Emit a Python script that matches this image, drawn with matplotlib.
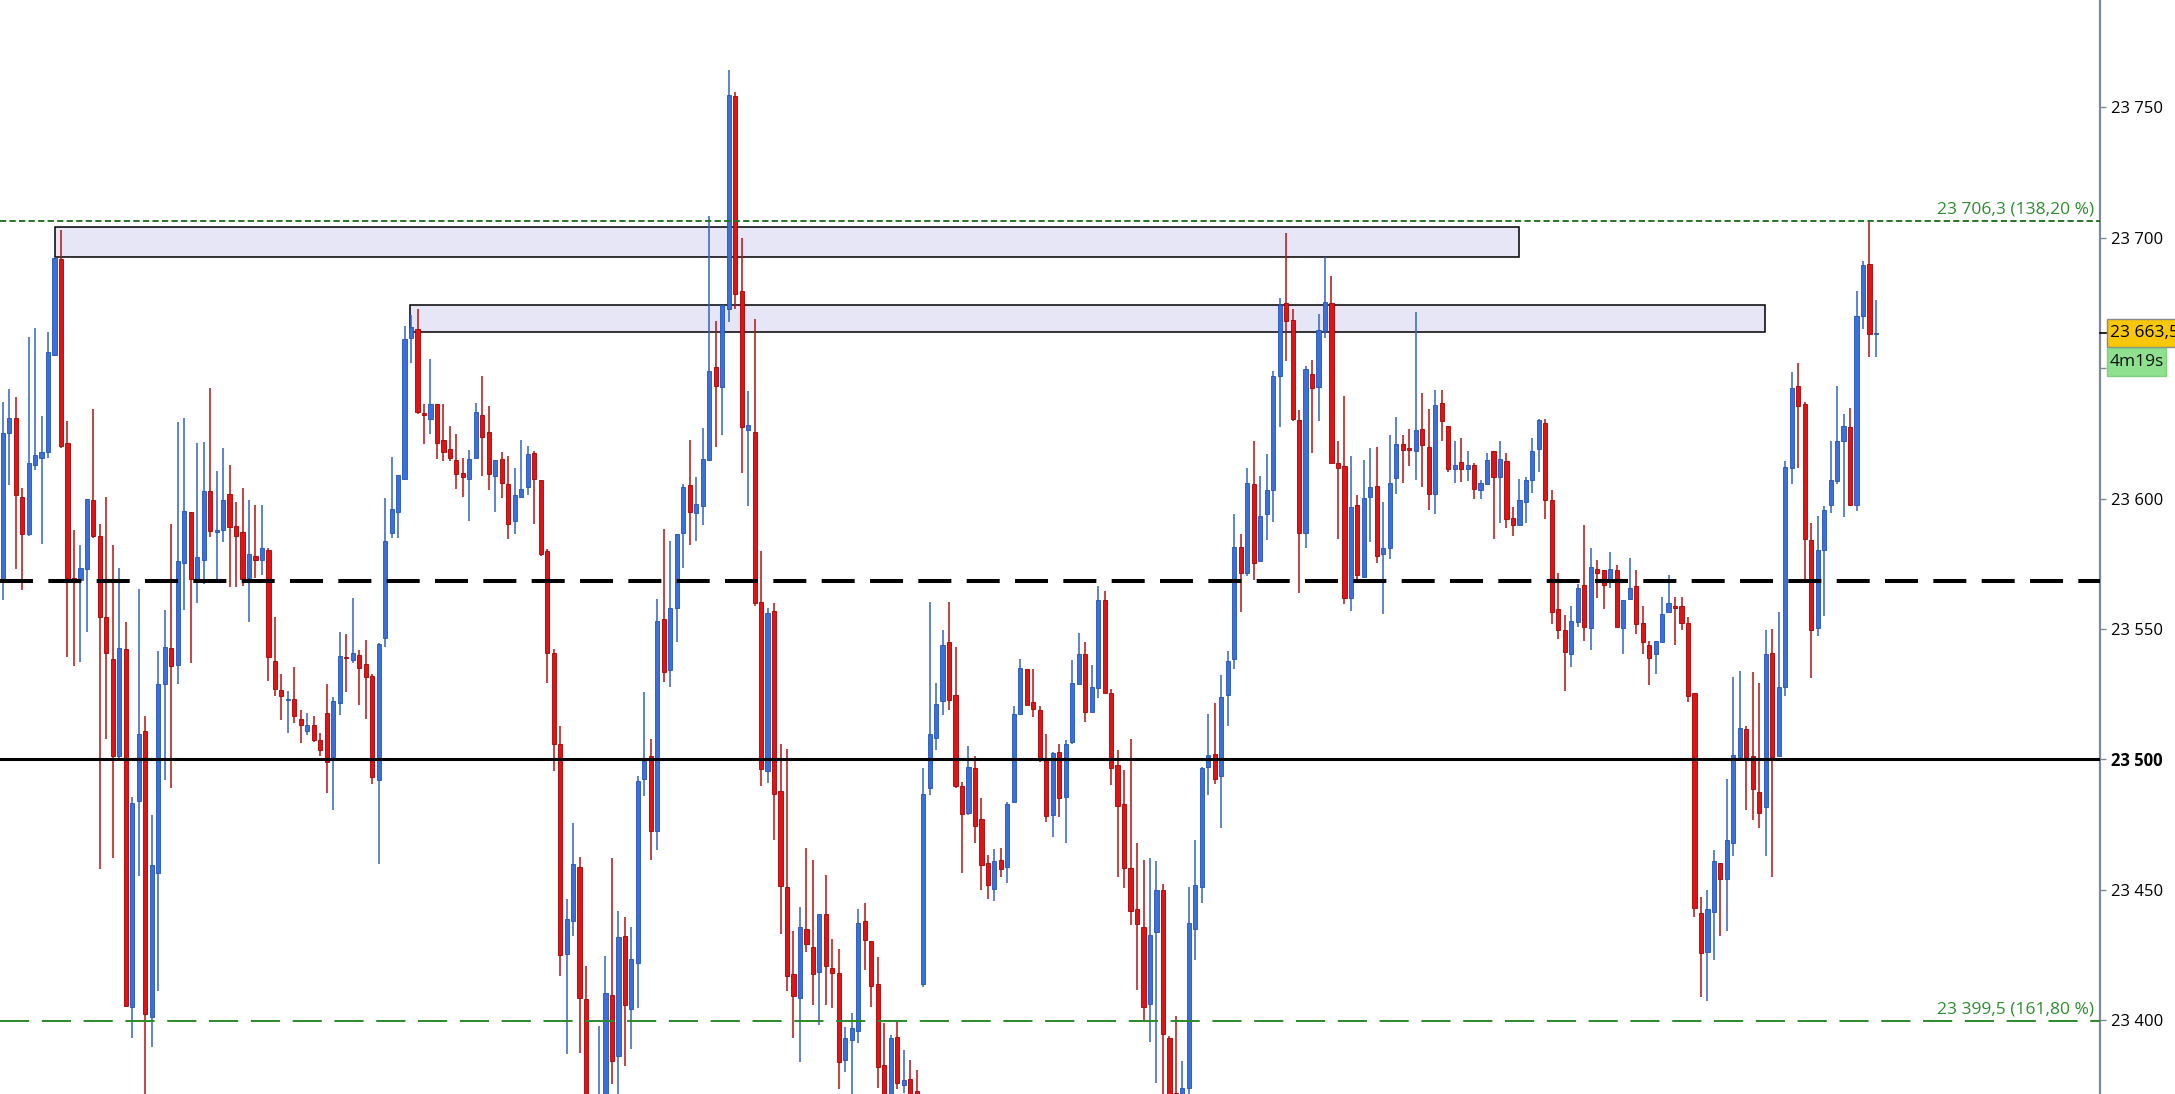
import matplotlib
matplotlib.use("Agg")
import matplotlib.pyplot as plt
from matplotlib.patches import Rectangle
from matplotlib.lines import Line2D
import numpy as np

plt.rcParams['font.family'] = ['Open Sans', 'DejaVu Sans']

# ---------------- data ----------------
opens = [
    23568, 23625, 23631, 23600.6, 23586.4, 23613, 23615.7, 23617.8, 23654.9, 23691.7,
    23621.4, 23569.5, 23568.9, 23572.9, 23599.4, 23585.6, 23554.4, 23538.3, 23501.3, 23542.2,
    23404.9, 23483.9, 23510.8, 23401.3, 23456.4, 23528.8, 23542.6, 23536.2, 23575.4, 23594.9,
    23569.1, 23576.5, 23603, 23587, 23587.9, 23601.8, 23589.5, 23587.3, 23569.5, 23577.9,
    23576.6, 23580.3, 23537.6, 23526.7, 23522.6, 23523.2, 23515.6, 23510.7, 23513.3, 23507.5,
    23517.9, 23500.9, 23521.7, 23539, 23538, 23540, 23536.5, 23531.9, 23491.9, 23546.4,
    23586.9, 23595, 23607.6, 23661.4, 23665.2, 23632.8, 23630.4, 23636.1, 23622.3, 23618.9,
    23614.6, 23609.7, 23607.4, 23615.6, 23632, 23625.6, 23608.7, 23615.3, 23605.4, 23591.3,
    23600.5, 23604.3, 23617.6, 23607.2, 23579.8, 23540.7, 23505.9, 23425.3, 23438.1, 23458.8,
    23408.2, 23364, 23360, 23366, 23409.5, 23386.2, 23432.2, 23404.1, 23422, 23492.3,
    23501.3, 23472.4, 23553.6, 23534.3, 23558, 23586.9, 23605, 23594.6, 23597.2, 23614.8,
    23650.6, 23642.6, 23672.8, 23754.5, 23679.7, 23626.4, 23625.6, 23560.3, 23495.6, 23556.7,
    23487.9, 23451, 23417.5, 23408.5, 23434.8, 23427.8, 23418.3, 23440.7, 23420.1, 23418,
    23384.5, 23392.5, 23395.6, 23438, 23430.2, 23413.8, 23382.8, 23366, 23393.3, 23374.9,
    23377.3, 23372.7, 23413.8, 23488.9, 23508.2, 23522.2, 23544.8, 23524.5, 23489.6, 23479.5,
    23496.5, 23476.9, 23460.2, 23450.4, 23461.2, 23458.5, 23483.7, 23517.4, 23534.6, 23521.8,
    23518.9, 23500, 23478.5, 23502.6, 23485.4, 23506.8, 23528.8, 23540.5, 23518.1, 23527.5,
    23561.2, 23525.4, 23497.7, 23482.7, 23458.4, 23442.4, 23435.8, 23406, 23433.7, 23449.7,
    23393.2, 23372, 23365, 23374, 23434.8, 23451, 23497.2, 23502.1, 23493.4, 23524.5,
    23538.4, 23581.4, 23571.4, 23605.5, 23576.1, 23594.2, 23603.4, 23646.9, 23674.8, 23668.4,
    23630.3, 23586.9, 23647.6, 23642.7, 23664.3, 23674.8, 23613.6, 23612.6, 23561.8, 23597.5,
    23569.8, 23600.7, 23604.9, 23578.8, 23581.1, 23607.8, 23620.9, 23619.4, 23618.3, 23626.7,
    23619.9, 23601.9, 23636.8, 23628, 23611.5, 23614, 23611.5, 23612.8, 23603.2, 23605.5,
    23618.3, 23608.2, 23614.3, 23592.5, 23590, 23598.7, 23607.2, 23618.8, 23629.1, 23599.3,
    23557.5, 23549.4, 23540.4, 23552.7, 23567, 23550.4, 23572.8, 23572.4, 23568.2, 23572.5,
    23550.4, 23561.3, 23566.6, 23552.2, 23544, 23540.4, 23544.8, 23556.4, 23558.7, 23558.7,
    23552.2, 23525.4, 23441.2, 23426.1, 23441.5, 23460.1, 23454.2, 23467.9, 23500.8, 23511.5,
    23501.2, 23487.5, 23481.6, 23540.7, 23501.2, 23527.6, 23611.7, 23643, 23636.2, 23584,
    23550.5, 23580.4, 23597.7, 23606.9, 23621.9, 23627.4, 23597.7, 23670.1, 23690, 23663.2,
]
highs = [
    23637, 23642, 23639, 23604, 23662, 23665.3, 23631.8, 23664, 23692.6, 23703,
    23629.9, 23587.9, 23582.2, 23599.8, 23634.3, 23590.3, 23600.4, 23582.2, 23573.3, 23552.5,
    23485.4, 23565.3, 23516.7, 23478.6, 23541.5, 23557.4, 23590.3, 23629.4, 23630.9, 23594.9,
    23621.4, 23621.8, 23642.4, 23610.5, 23619.4, 23612.8, 23598.5, 23604.1, 23599.5, 23597.4,
    23597.4, 23581.2, 23554.5, 23532.7, 23526, 23535.4, 23518.9, 23517.9, 23516.6, 23510.2,
    23529, 23523.7, 23548.7, 23548.1, 23561.8, 23542, 23545.8, 23532.7, 23544.6, 23600.3,
    23615.9, 23609, 23666.3, 23670.2, 23672.8, 23636.2, 23653.5, 23636.1, 23636.3, 23627.9,
    23624.8, 23615.6, 23618.7, 23636.6, 23647, 23635.3, 23614.8, 23617.9, 23616.4, 23611.8,
    23622.3, 23620.2, 23618.2, 23607.2, 23580.6, 23542.2, 23512.8, 23446.3, 23475.7, 23462.4,
    23420.7, 23369, 23397.7, 23424.6, 23462.1, 23441.7, 23439.4, 23435.6, 23493.6, 23525.8,
    23507.7, 23561.4, 23588.2, 23583.8, 23586.4, 23605.7, 23622.5, 23608.3, 23627.1, 23708.4,
    23668.1, 23674.1, 23764.3, 23755.8, 23699.8, 23641.1, 23668.9, 23579.9, 23558, 23559.8,
    23505.7, 23503.9, 23434.3, 23443.2, 23466, 23461.3, 23440.7, 23455.6, 23431.2, 23427.3,
    23397.4, 23402.8, 23442.6, 23444.9, 23430.2, 23424.3, 23398.8, 23394.3, 23399.9, 23388.4,
    23384.5, 23380.8, 23496.7, 23560.4, 23529.4, 23549.6, 23560.4, 23543.1, 23491.3, 23505,
    23501.4, 23485, 23463.4, 23465.4, 23465.8, 23483.7, 23520.6, 23538.3, 23534.6, 23534.6,
    23520.6, 23509.8, 23502.6, 23505.9, 23507.2, 23538.2, 23548.4, 23544.8, 23536, 23566.5,
    23564.4, 23527.1, 23503.6, 23495.7, 23507.9, 23467.8, 23461.4, 23462, 23461, 23452,
    23394, 23401.7, 23384.2, 23451, 23469.1, 23497.2, 23517.5, 23521.7, 23532.4, 23541.6,
    23594.2, 23586.4, 23611.7, 23622, 23608.7, 23617.1, 23649, 23676.8, 23701.8, 23672.7,
    23633.8, 23650.7, 23653, 23670.7, 23692.6, 23685.4, 23622.2, 23639.5, 23616.4, 23601.4,
    23614.9, 23619.5, 23619.9, 23598.7, 23624.5, 23631.4, 23624.4, 23626.7, 23671.4, 23640.6,
    23634.4, 23641.8, 23641.8, 23628, 23622.2, 23623.2, 23618.3, 23613.8, 23607, 23617.4,
    23618.3, 23622.1, 23617.3, 23596.7, 23607.5, 23608.2, 23623.1, 23630.6, 23630.6, 23603.4,
    23571.3, 23555.2, 23558.7, 23567.2, 23589.7, 23581, 23576.6, 23572.4, 23579.6, 23574.6,
    23560.9, 23577.3, 23572.5, 23558.7, 23545.5, 23545.5, 23562.1, 23570.6, 23562.4, 23562.4,
    23554.5, 23525.4, 23447, 23449.7, 23465, 23460.1, 23492.4, 23531.5, 23533.9, 23512.9,
    23533.5, 23529.2, 23549.5, 23550.1, 23556.6, 23614.3, 23648.5, 23651.9, 23637.2, 23590.6,
    23593.2, 23597.1, 23621.9, 23643.1, 23632.3, 23634.6, 23679.6, 23691, 23706.3, 23676.3,
]
lows = [
    23561, 23605, 23573, 23565, 23585.8, 23611, 23582.4, 23615.5, 23654.5, 23619.3,
    23539.4, 23535.8, 23537.3, 23548.9, 23585, 23457.8, 23507.8, 23462.1, 23499.6, 23404.9,
    23393.2, 23455.3, 23365, 23389.6, 23411.2, 23492.2, 23489, 23528.8, 23557.4, 23536.9,
    23560, 23567.4, 23585.4, 23567.8, 23583.5, 23566, 23566, 23566.3, 23552.5, 23569.6,
    23570.5, 23530.1, 23524.3, 23515.1, 23509.9, 23514, 23506.1, 23509.2, 23506.7, 23501.4,
    23487, 23480.5, 23517.1, 23525.8, 23536.9, 23520.9, 23515.3, 23490.4, 23459.8, 23543,
    23584.7, 23584.7, 23607.6, 23652.1, 23632.4, 23620.9, 23624.6, 23615.1, 23614.3, 23614.3,
    23603.6, 23600.5, 23591.3, 23615.6, 23608.7, 23603.1, 23594.9, 23600.3, 23584.4, 23586.4,
    23600.5, 23601.5, 23590.3, 23578, 23529.4, 23495.4, 23416.9, 23387, 23432.2, 23387.5,
    23360, 23350, 23352, 23360, 23375.4, 23370, 23382.4, 23388.7, 23404.6, 23485.8,
    23461.3, 23465.2, 23529.7, 23527.8, 23545.1, 23573.5, 23582, 23583.8, 23589.7, 23614.2,
    23619.9, 23624.3, 23667.6, 23672.8, 23609.6, 23597.2, 23558.8, 23489.7, 23491, 23469.1,
    23433, 23411, 23393, 23384, 23426, 23405.9, 23398.1, 23405.9, 23404.6, 23373.6,
    23380.1, 23365, 23391, 23419.3, 23405, 23374, 23360, 23360, 23373.4, 23372,
    23366, 23362, 23412.5, 23486.3, 23503.7, 23517, 23518.7, 23488.9, 23456.5, 23478.5,
    23467.8, 23449.7, 23446.2, 23445.8, 23455, 23452.6, 23483.7, 23517.4, 23520.9, 23516.3,
    23499.1, 23476.1, 23470, 23477.8, 23467.8, 23506, 23528.8, 23514.3, 23518.1, 23523.5,
    23525.4, 23490.2, 23455, 23450.7, 23436.5, 23411.5, 23399.1, 23391.7, 23375.7, 23365,
    23360, 23360, 23360, 23370, 23423, 23445, 23486.1, 23490.4, 23473.8, 23512.8,
    23534.5, 23556.3, 23570.1, 23568.7, 23576.1, 23584, 23591, 23627.3, 23652.8, 23629.9,
    23563.8, 23581.1, 23617.3, 23629.9, 23661.4, 23613.5, 23584.6, 23559.5, 23557, 23568.5,
    23569.5, 23583.4, 23575.3, 23555.7, 23576.9, 23601.9, 23605.8, 23612.3, 23607, 23604.5,
    23595.5, 23594.2, 23621.9, 23610, 23605.8, 23606.5, 23606.8, 23600, 23600, 23605.5,
    23584.6, 23590.7, 23588.5, 23585.5, 23589.7, 23590.7, 23602.2, 23610.1, 23592.2, 23551.9,
    23546.3, 23526.3, 23535.5, 23550.9, 23545.2, 23541.8, 23561.9, 23557.5, 23565.8, 23550.7,
    23540.4, 23560.9, 23548.2, 23540.3, 23528.5, 23532.5, 23544.8, 23556.4, 23543.7, 23549.7,
    23521.8, 23439.3, 23408.7, 23407.2, 23422.9, 23432.3, 23434.2, 23463, 23500.8, 23480.6,
    23476.7, 23473.8, 23463, 23454.8, 23501.2, 23524.3, 23605.5, 23611.7, 23568.1, 23531.1,
    23547.2, 23555, 23594.5, 23605.5, 23592.8, 23597.1, 23595.1, 23665.2, 23654.2, 23654.2,
]
closes = [
    23625, 23631, 23601.5, 23586.4, 23613.6, 23616.7, 23617.8, 23656, 23692.2, 23620.3,
    23569.7, 23568.4, 23573.3, 23599.8, 23585.6, 23554.4, 23540.9, 23501.3, 23542.8, 23405.5,
    23483.3, 23509.7, 23402.1, 23459.5, 23528.8, 23543, 23535.8, 23576.1, 23595.1, 23569.1,
    23577.5, 23603, 23587.7, 23588, 23599.5, 23589.2, 23585.6, 23569, 23578.9, 23576.3,
    23581.2, 23539.2, 23527, 23524.3, 23523.2, 23516.6, 23513.1, 23513.3, 23507.2, 23503.4,
    23499.1, 23522.4, 23539.5, 23538.7, 23540.8, 23535, 23531.6, 23493.1, 23544.3, 23583.8,
    23596, 23609, 23661.1, 23665.6, 23633.1, 23632.1, 23636.1, 23621.2, 23617.9, 23615.6,
    23609.5, 23608.4, 23615.3, 23633, 23623.5, 23609.5, 23614.6, 23606.1, 23590.3, 23601.5,
    23603.6, 23617.1, 23607.4, 23578.8, 23540.7, 23505.9, 23425.1, 23438.6, 23459.8, 23408.4,
    23366, 23358, 23369, 23410.2, 23384.1, 23432, 23405.6, 23423.3, 23491.8, 23499.5,
    23472.4, 23552.9, 23533.5, 23558, 23586.4, 23604.4, 23594.9, 23598, 23615.3, 23649,
    23643.1, 23674.1, 23754.8, 23678.4, 23627.6, 23628.2, 23560.1, 23496.1, 23556.2, 23486.6,
    23451.5, 23416.7, 23409, 23435.5, 23429.1, 23417.5, 23440.7, 23420.6, 23418, 23384,
    23393.2, 23396.9, 23437.3, 23430.8, 23412.9, 23381.9, 23368, 23393, 23375.7, 23376.9,
    23370, 23366, 23486.6, 23509.5, 23521, 23543.7, 23522.8, 23489.9, 23479.1, 23497,
    23474.5, 23459.5, 23451.7, 23460.8, 23457.8, 23483, 23517.2, 23534.9, 23520.9, 23519.3,
    23500, 23478.2, 23502.3, 23485, 23505.9, 23529.2, 23540.5, 23518.1, 23527.7, 23561.2,
    23525.4, 23496.8, 23481.9, 23458.4, 23441.8, 23436.9, 23405.1, 23432.6, 23449.7, 23394.5,
    23369, 23365, 23374, 23437.1, 23451.8, 23496.8, 23501.5, 23492.3, 23523.9, 23537.7,
    23581.4, 23571.4, 23606, 23575.1, 23593.2, 23603.2, 23646.9, 23674.2, 23668.2, 23630.5,
    23586.9, 23649.5, 23642.4, 23664.8, 23675.2, 23613.5, 23611.7, 23561.8, 23596.8, 23570.8,
    23600.2, 23604.5, 23578.1, 23581.1, 23605.9, 23620.9, 23618.6, 23618.6, 23626.3, 23620.5,
    23601.9, 23635.7, 23629.6, 23611.3, 23612.8, 23611.5, 23612.8, 23603.6, 23605.9, 23614.9,
    23608.1, 23615.1, 23592.2, 23589.7, 23599.3, 23607, 23618.4, 23630, 23599.3, 23556.3,
    23549.7, 23541.2, 23553.1, 23565.8, 23550.7, 23573.6, 23571.6, 23567, 23572.8, 23550.7,
    23560.9, 23565.8, 23551.9, 23544.8, 23539, 23545.2, 23555.7, 23559.9, 23557.9, 23552.2,
    23524.3, 23443, 23425.5, 23442.5, 23461, 23454.2, 23468.9, 23501.6, 23511.9, 23500.8,
    23488.5, 23479.3, 23540.3, 23500.8, 23527.6, 23612.1, 23642.5, 23635.6, 23584.3, 23549.7,
    23580.4, 23595.7, 23607.2, 23622.1, 23628, 23597.7, 23670.1, 23689.6, 23663.2, 23663.5,
]

# horizontal levels
fib_levels = [23706.3, 23399.5]
fib_labels = ["23 706,3 (138,20 %)", "23 399,5 (161,80 %)"]
dashed_level = 23568.5
solid_level = 23500.0

# supply zones (candle index start/end, price low/high)
zone_start = [8.1, 62.9]
zone_end = [233.9, 271.9]
zone_low = [23692.6, 23663.8]
zone_high = [23704.2, 23674.2]

# price axis
tick_values = [23400, 23450, 23500, 23550, 23600, 23650, 23700, 23750]
tick_labels = ["23 400", "23 450", "23 500", "23 550", "23 600", "", "23 700", "23 750"]
last_price = 23663.5
last_price_label = "23 663,5"
timer_label = "4m19s"

# ---------------- figure ----------------
W, H = 2175, 1094
fig = plt.figure(figsize=(W / 100, H / 100), dpi=100)
fig.patch.set_facecolor("white")
ax = fig.add_axes([0, 0, 2100 / W, 1])
ax.set_facecolor("white")

n = len(opens)
x = np.arange(n)
o = np.array(opens); c = np.array(closes); hi = np.array(highs); lo = np.array(lows)
up = c >= o

body_col_up, edge_up, wick_up = "#3b6fd9", "#2352b8", "#3262c8"
body_col_dn, edge_dn, wick_dn = "#e01414", "#a80000", "#b81010"

# zones (behind candles)
for xs, xe, yl, yh in zip(zone_start, zone_end, zone_low, zone_high):
    ax.add_patch(Rectangle((xs, yl), xe - xs, yh - yl, facecolor="#e6e6f6",
                           edgecolor="black", linewidth=1.1, zorder=1))

# wicks
ax.vlines(x[up], lo[up], hi[up], colors=wick_up, linewidth=1.1, zorder=2)
ax.vlines(x[~up], lo[~up], hi[~up], colors=wick_dn, linewidth=1.1, zorder=2)

# bodies
bottoms = np.minimum(o, c)
heights = np.maximum(np.abs(c - o), 0.45)
ax.bar(x[up], heights[up], bottom=bottoms[up], width=0.64, color=body_col_up,
       edgecolor=edge_up, linewidth=0.6, zorder=3)
ax.bar(x[~up], heights[~up], bottom=bottoms[~up], width=0.64, color=body_col_dn,
       edgecolor=edge_dn, linewidth=0.6, zorder=3)

# horizontal lines
ax.axhline(solid_level, color="black", linewidth=2.2, zorder=5)
ax.axhline(dashed_level, color="black", linewidth=2.9, dashes=(8.2, 3.8), zorder=5)
ax.axhline(fib_levels[0], color="#267326", linewidth=1.4, dashes=(3.2, 1.7), zorder=5)
ax.axhline(fib_levels[1], color="#2a8a2a", linewidth=1.4, dashes=(15, 6.5), zorder=5)

for lvl, lab in zip(fib_levels, fib_labels):
    ax.annotate(lab, xy=(2094 / 2100, lvl), xycoords=("axes fraction", "data"),
                xytext=(0, 3), textcoords="offset points", ha="right", va="bottom",
                color="#2e8b2e", fontsize=12.5, zorder=6)

# limits: candle 0 at px 2.67, spacing 6.482 px
ax.set_xlim(-2.67 / 6.482, (2100 - 2.67) / 6.482)
ax.set_ylim(23371.6, 23791.2)

# axis styling
for s in ["top", "left", "bottom"]:
    ax.spines[s].set_visible(False)
ax.spines["right"].set_color("#7d8b98")
ax.spines["right"].set_linewidth(1.6)
ax.set_xticks([])
ax.yaxis.tick_right()
ax.set_yticks(tick_values, labels=tick_labels)
ax.tick_params(axis="y", direction="out", length=4.5, width=1, color="#7d8b98",
               pad=3.5, labelsize=12, labelcolor="black")
for t in ax.get_yticklabels():
    if t.get_text() == "23 500":
        t.set_fontweight("bold")

# last price tag
def fy(py):
    return 1 - py / H

ypx = 759.2 - (last_price - 23500) * 2.607
fig.add_artist(Rectangle((2107 / W, fy(ypx + 14)), 80 / W, 28 / H, transform=fig.transFigure,
                         facecolor="#f8c808", edgecolor="#8a8a8a", linewidth=1.0, zorder=10))
fig.text(2110 / W, fy(ypx), last_price_label, ha="left", va="center", fontsize=12.5,
         color="black", zorder=11)
fig.add_artist(Line2D([2100 / W, 2106 / W], [fy(ypx), fy(ypx)], transform=fig.transFigure,
                      color="black", linewidth=1.2, zorder=10))
fig.add_artist(Rectangle((2107 / W, fy(ypx + 43)), 59 / W, 28 / H, transform=fig.transFigure,
                         facecolor="#8fe08f", edgecolor="#80d080", linewidth=1.0, zorder=10))
fig.text(2110 / W, fy(ypx + 29), timer_label, ha="left", va="center", fontsize=12.5,
         color="#111111", zorder=11)

fig.savefig("out.png", dpi=100, facecolor="white")
